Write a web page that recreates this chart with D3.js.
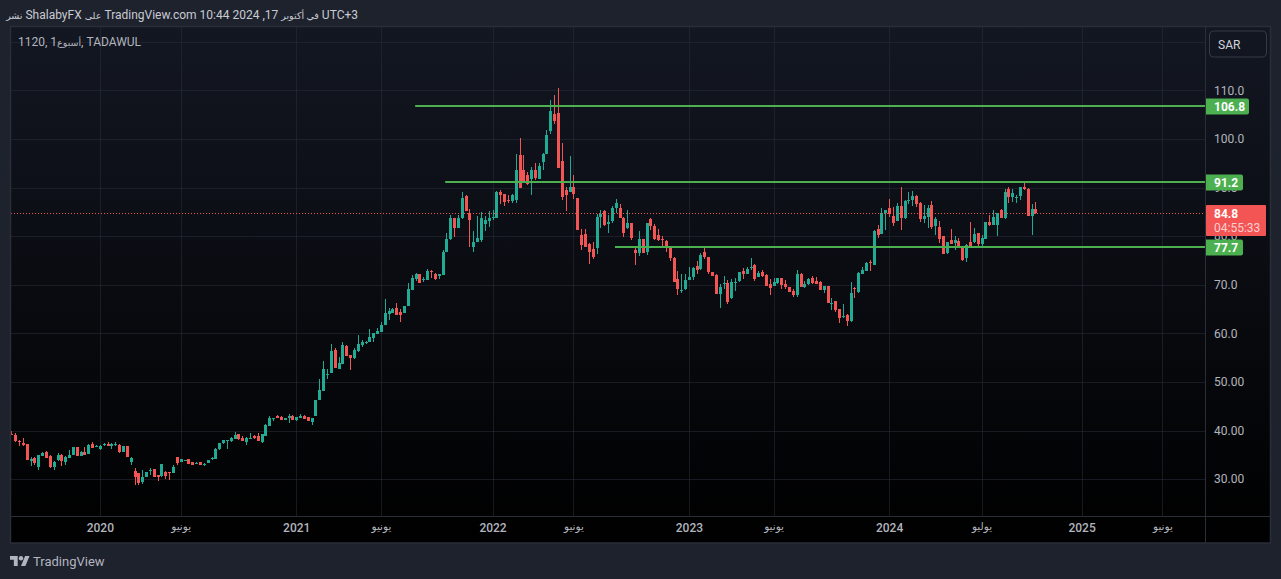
<!DOCTYPE html>
<html lang="ar">
<head>
<meta charset="utf-8">
<script src="https://cdnjs.cloudflare.com/ajax/libs/d3/7.8.5/d3.min.js"></script>
<style>
html,body{margin:0;padding:0;background:#1e222d;overflow:hidden}
svg{display:block}
text{font-family:Roboto,"DejaVu Sans",sans-serif}
</style>
</head>
<body>
<svg id="c" width="1281" height="579"></svg>
<script>
const opens = [
39.2,39.1,37.9,37.5,37.2,33.7,34.4,32.4,34.8,35.6,
34.8,32.4,33.9,35.0,33.5,34.4,34.9,36.6,34.8,35.5,
35.2,37.3,36.7,36.1,37.1,37.2,36.9,37.1,37.1,35.6,
36.8,33.5,31.7,31.2,29.4,30.4,31.6,32.0,30.8,30.7,
31.5,31.4,31.2,34.6,33.6,33.8,34.1,33.5,33.2,33.5,
32.9,33.4,34.1,34.2,36.1,37.4,37.9,37.8,38.2,39.2,
38.5,37.6,38.3,38.9,38.8,37.6,38.9,41.0,42.5,42.9,
42.7,42.2,42.5,43.0,42.1,42.6,43.0,42.7,41.8,42.9,
46.2,48.2,51.5,51.9,56.6,52.7,53.7,57.4,55.6,55.0,
56.4,57.6,58.1,58.2,59.1,59.9,60.3,61.7,64.0,64.2,
65.2,64.4,64.2,65.6,68.9,71.1,72.1,71.0,70.9,72.9,
72.3,71.7,71.9,76.8,79.4,83.7,81.7,83.7,88.2,84.7,
77.8,78.8,79.2,82.5,83.1,83.8,83.7,89.0,88.6,87.4,
87.2,87.4,96.6,93.7,92.5,91.7,93.7,91.7,95.2,96.8,
101.7,105.2,105.4,95.4,89.5,89.0,90.1,87.8,80.3,80.5,
78.4,77.4,77.6,83.9,85.2,82.5,83.1,85.8,85.8,83.7,
81.7,82.7,77.2,76.6,79.4,76.8,83.5,82.1,80.3,79.4,
78.9,78.0,75.4,71.1,68.9,69.1,70.9,71.5,73.9,73.3,
76.8,75.8,72.7,71.9,68.0,70.2,70.3,67.2,70.4,70.7,
72.9,72.3,73.5,74.0,71.5,72.7,71.9,70.1,69.7,70.3,
71.3,70.1,69.5,68.8,67.8,72.3,69.5,70.1,71.3,70.7,
70.5,68.9,69.7,66.2,66.6,65.0,63.5,63.7,62.5,69.3,
68.6,72.3,72.9,74.6,74.1,81.4,80.4,84.8,85.8,84.1,
83.1,86.2,83.7,87.4,87.4,88.3,86.8,83.5,83.9,86.4,
82.0,81.8,80.0,76.5,79.1,78.5,78.9,77.9,75.4,78.7,
78.7,80.6,78.3,79.4,82.9,82.2,82.2,85.3,83.7,89.7,
88.0,88.0,88.3,90.1,89.7,84.1,85.6];
const highs = [
40.0,39.4,38.0,38.4,37.2,34.5,34.6,34.9,35.6,35.8,
34.9,33.7,35.3,35.2,34.8,36.0,36.7,36.6,35.8,36.7,
37.3,37.6,37.1,37.0,37.5,37.6,37.4,37.6,37.2,36.8,
36.8,34.6,32.3,31.2,31.8,31.5,32.3,32.0,30.8,33.2,
31.7,31.5,33.0,34.6,34.2,34.0,34.1,33.5,33.5,33.5,
33.3,34.0,34.5,36.3,37.5,38.1,38.0,38.6,39.6,39.2,
38.8,38.6,39.5,39.0,39.5,39.2,41.4,42.9,42.6,43.1,
43.0,42.6,43.4,43.1,42.8,43.3,43.1,42.7,42.6,46.3,
50.5,54.4,52.7,57.8,57.0,55.2,58.2,57.6,55.6,57.0,
59.7,58.6,58.5,60.9,60.1,61.1,62.3,67.0,65.2,65.2,
66.2,65.0,65.6,70.3,71.9,72.5,72.3,71.5,73.3,73.1,
72.5,72.3,77.2,80.6,84.3,83.7,84.3,89.0,88.4,85.6,
81.1,84.1,85.0,84.1,85.2,85.4,89.3,89.4,88.6,88.4,
88.6,96.8,100.1,96.6,93.1,94.3,95.0,95.0,97.0,101.9,
108.0,109.0,110.5,99.2,90.1,96.4,92.5,87.8,81.5,81.5,
78.6,78.8,84.6,85.4,85.4,84.3,86.2,87.6,86.6,83.9,
85.4,82.7,77.8,81.1,79.4,82.7,83.7,82.5,81.5,80.1,
79.3,78.0,75.8,72.9,72.1,72.1,73.7,73.6,74.8,76.6,
77.6,75.8,72.7,72.1,70.1,71.7,70.9,71.1,71.3,72.7,
73.5,73.6,75.4,74.2,72.9,73.1,72.1,71.1,71.3,71.3,
71.3,70.9,69.5,69.1,73.1,72.5,70.7,71.3,71.7,71.5,
70.7,69.7,69.7,67.2,66.6,65.0,66.0,64.0,70.5,69.5,
72.7,73.7,74.6,75.0,81.2,82.2,85.8,85.4,87.6,86.0,
86.8,90.1,87.4,89.1,89.3,88.5,87.0,86.4,86.4,87.2,
83.9,83.2,80.0,78.7,81.4,80.0,79.6,77.9,78.3,82.9,
81.6,80.6,80.2,82.9,84.3,85.3,84.7,85.6,89.7,90.1,
89.7,88.5,90.1,91.1,89.9,86.6,87.0];
const lows = [
39.0,37.7,36.9,36.9,33.9,32.6,32.8,31.9,34.8,34.3,
32.3,31.9,33.7,32.6,32.8,34.3,34.9,34.8,34.8,35.0,
35.2,36.4,36.6,36.0,36.9,36.8,36.2,36.9,35.3,35.6,
34.6,33.0,28.8,28.8,28.9,30.4,30.9,30.5,29.7,30.5,
30.1,29.9,31.2,32.9,33.6,33.8,33.1,32.8,33.1,33.0,
32.7,33.4,34.0,34.1,36.0,37.3,36.2,37.7,38.2,38.1,
37.8,37.0,38.2,38.2,37.8,37.5,38.8,40.9,41.9,42.5,
42.1,42.1,41.5,42.1,41.9,42.5,42.3,41.9,41.1,42.9,
46.2,48.2,50.5,51.9,52.9,52.7,53.7,55.4,52.5,54.8,
56.2,57.2,57.8,58.2,58.2,59.9,60.3,61.7,62.7,64.2,
63.7,62.3,64.2,65.6,68.9,70.7,70.3,70.5,70.9,71.3,
70.9,71.1,71.9,76.8,79.2,79.9,81.7,83.5,85.2,77.8,
76.8,78.8,78.8,81.1,81.9,83.3,83.7,86.6,86.2,86.8,
86.8,86.8,89.9,90.9,90.5,88.4,91.5,91.7,93.7,96.8,
101.1,103.1,94.1,87.4,85.2,89.0,87.6,81.3,77.2,77.8,
74.3,75.2,76.4,81.7,82.1,80.7,82.7,84.8,83.7,79.9,
81.5,79.2,74.1,76.0,76.6,76.2,81.3,79.2,79.0,78.0,
76.8,74.8,70.5,67.8,68.2,69.0,70.9,70.9,72.3,73.1,
75.2,72.3,71.7,68.0,65.2,69.1,66.0,67.0,68.8,70.5,
71.1,72.3,73.1,70.7,71.5,71.5,69.7,67.8,69.7,70.1,
69.1,69.1,68.6,67.4,67.4,69.5,69.3,69.9,70.1,70.1,
68.9,68.2,66.2,64.8,64.4,62.1,63.1,61.5,62.3,67.2,
68.2,72.1,72.9,72.9,74.1,79.6,80.4,81.2,83.9,82.0,
83.1,81.2,83.5,86.6,86.2,86.0,82.9,82.7,81.6,81.4,
80.2,78.5,76.3,76.3,78.3,77.1,77.9,74.8,74.6,77.7,
78.5,77.7,77.9,79.4,82.0,82.2,80.0,83.7,83.5,86.8,
87.0,86.8,87.4,89.5,84.1,80.2,84.5];
const closes = [
39.1,37.8,37.7,37.0,33.9,34.1,33.3,34.9,35.4,34.4,
32.4,33.5,35.0,33.7,34.5,34.9,36.6,34.8,35.6,35.0,
37.1,36.5,36.9,36.9,37.2,36.9,37.3,37.2,35.6,36.8,
34.6,34.4,30.4,29.3,30.5,31.5,31.8,30.5,30.4,33.2,
30.7,31.3,32.5,33.3,34.1,34.0,33.1,32.9,33.4,33.0,
33.2,34.0,34.4,36.1,37.4,38.0,38.0,38.5,39.0,38.2,
37.9,38.4,38.4,38.4,37.9,39.2,41.1,42.5,42.6,42.6,
42.2,42.6,43.0,42.1,42.7,42.9,42.4,41.9,42.6,46.3,
48.4,52.7,51.6,56.4,52.9,53.9,57.6,55.4,54.9,56.6,
57.8,58.2,58.2,59.3,60.1,60.5,61.7,64.2,64.6,65.0,
63.8,63.8,65.6,69.1,71.3,72.1,70.3,71.1,72.9,72.8,
71.1,72.3,76.8,79.4,83.7,81.7,83.7,87.8,85.2,83.3,
78.8,79.6,83.7,83.3,83.7,84.0,89.0,88.4,87.0,87.3,
88.4,93.5,89.9,91.1,90.7,93.7,91.9,94.5,96.8,100.9,
105.8,103.7,94.1,88.0,88.4,90.1,88.6,81.3,78.2,77.8,
76.8,75.8,83.9,84.6,82.3,82.9,85.8,86.8,83.7,80.7,
82.7,79.6,76.6,79.4,76.6,82.7,82.0,79.4,79.2,79.2,
77.6,75.4,70.5,69.1,69.0,70.9,71.5,73.5,73.1,76.2,
75.6,72.7,71.7,68.0,69.5,70.4,66.4,70.5,70.5,72.7,
72.3,73.3,73.6,71.1,72.5,71.7,69.7,69.3,70.5,71.3,
69.9,69.5,68.6,67.8,72.3,69.5,70.1,71.1,70.3,70.1,
68.9,69.7,66.2,66.3,64.8,63.1,63.6,62.5,68.2,69.1,
72.5,73.1,74.4,74.4,81.1,80.2,84.8,85.4,84.5,82.7,
86.2,83.7,87.2,87.5,88.3,86.6,83.5,84.1,85.8,81.8,
83.5,79.4,76.3,78.7,78.3,79.1,77.9,75.0,78.1,77.7,
80.4,78.3,79.6,82.9,82.2,83.9,84.7,83.7,89.1,88.0,
88.9,88.1,90.1,89.7,84.1,85.6,84.8];

// Time axis: bar index of each labelled date, and its label
const timeTickBars   = [23, 44, 74, 96, 125, 146, 176, 198, 228, 252, 278, 299];
const timeTickLabels = ["2020","يونيو","2021","يونيو","2022","يونيو","2023","يونيو","2024","يوليو","2025","يونيو"];
// Price axis
const gridPrices      = [120,110,100,90,80,70,60,50,40,30];
const priceTickValues = [110,100,90,80,70,60,50,40,30];
const priceTickLabels = ["110.0","100.0","90.0","80.0","70.0","60.0","50.00","40.00","30.00"];
// Horizontal levels drawn on the chart: price, first bar, label
const levelPrices = [106.8, 91.2, 77.7];
const levelBars   = [104.9, 112.7, 156.8];
const levelLabels = ["106.8","91.2","77.7"];
const lastPrice = 84.8, lastLabel = "84.8", countdown = "04:55:33";
const publishLine = "UTC+3 في أكتوبر 17, 2024 10:44 TradingView.com على ShalabyFX نشر";
const symbolLine  = "1120, 1أسبوع, TADAWUL";

const UP="#22ab94", DOWN="#f35555", LEVEL="#4caf50", TXT="#b2b5be", LINE="#2a2e39";
const panel={l:10,t:27,r:1270,b:543}, plotR=1205, plotB=516;

const svg=d3.select("#c");
const defs=svg.append("defs");
const grad=defs.append("linearGradient").attr("id","bg").attr("x1",0).attr("y1",0).attr("x2",0).attr("y2",1);
grad.append("stop").attr("offset","0%").attr("stop-color","#131722");
grad.append("stop").attr("offset","100%").attr("stop-color","#000000");
defs.append("clipPath").attr("id","plot").append("rect").attr("x",panel.l+1).attr("y",panel.t).attr("width",plotR-panel.l-1).attr("height",plotB-panel.t);

svg.append("rect").attr("width",1281).attr("height",579).attr("fill","#1e222d");
svg.append("rect").attr("x",panel.l).attr("y",panel.t).attr("width",panel.r-panel.l).attr("height",panel.b-panel.t).attr("fill","url(#bg)");

const x=d3.scaleLinear().domain([0,266]).range([11.3,1035.4]);
const y=d3.scaleLinear().domain([30,110]).range([479.1,90.3]);
const px=v=>Math.round(x(v));
const py=v=>Math.round(y(v));

// grid
const g=svg.append("g").attr("clip-path","url(#plot)");
g.selectAll(".gy").data(gridPrices).join("line").attr("x1",panel.l).attr("x2",plotR)
 .attr("y1",d=>py(d)+.5).attr("y2",d=>py(d)+.5).attr("stroke",LINE).attr("stroke-opacity",.55);
g.selectAll(".gx").data(timeTickBars).join("line").attr("x1",d=>px(d)+.5).attr("x2",d=>px(d)+.5)
 .attr("y1",panel.t).attr("y2",plotB).attr("stroke",LINE).attr("stroke-opacity",.55);

// candles
const idx=d3.range(opens.length);
const col=i=>closes[i]>=opens[i]?UP:DOWN;
g.selectAll(".wick").data(idx).join("rect").attr("x",i=>px(i)).attr("width",1)
 .attr("y",i=>py(highs[i])).attr("height",i=>Math.max(1,py(lows[i])-py(highs[i]))).attr("fill",col);
g.selectAll(".body").data(idx).join("rect").attr("x",i=>px(i)-1).attr("width",3)
 .attr("y",i=>py(Math.max(opens[i],closes[i])))
 .attr("height",i=>Math.max(1,py(Math.min(opens[i],closes[i]))-py(Math.max(opens[i],closes[i]))))
 .attr("fill",col);

// last price dotted line
svg.append("line").attr("x1",panel.l+1).attr("x2",plotR).attr("y1",py(lastPrice)+.5).attr("y2",py(lastPrice)+.5)
 .attr("stroke",DOWN).attr("stroke-dasharray","1,2");

// panel lines
svg.append("rect").attr("x",panel.l+.5).attr("y",panel.t-.5).attr("width",panel.r-panel.l).attr("height",panel.b-panel.t+.5).attr("fill","none").attr("stroke",LINE).attr("stroke-width",1.5);
svg.append("line").attr("x1",plotR+.5).attr("x2",plotR+.5).attr("y1",panel.t).attr("y2",panel.b).attr("stroke",LINE);
svg.append("line").attr("x1",panel.l).attr("x2",panel.r).attr("y1",plotB+.5).attr("y2",plotB+.5).attr("stroke",LINE);

// axes
const ax=svg.append("g").attr("transform",`translate(0,${plotB})`)
 .call(d3.axisBottom(x).tickValues(timeTickBars).tickSize(0).tickPadding(7).tickFormat((d,i)=>timeTickLabels[i]));
ax.select(".domain").remove();
ax.selectAll("text").attr("fill",TXT)
 .style("font-size",(d,i)=>/\d/.test(timeTickLabels[i])?"12px":"10.5px")
 .style("font-weight",(d,i)=>/\d/.test(timeTickLabels[i])?500:400);

const ay=svg.append("g").attr("transform",`translate(${plotR},0)`)
 .call(d3.axisRight(y).tickValues(priceTickValues).tickSize(0).tickPadding(9).tickFormat((d,i)=>priceTickLabels[i]));
ay.select(".domain").remove();
ay.selectAll("text").attr("fill",TXT).style("font-size","12px");

// levels
svg.selectAll(".lvl").data(levelPrices).join("line").attr("x1",(d,i)=>x(levelBars[i])).attr("x2",plotR)
 .attr("y1",d=>py(d)).attr("y2",d=>py(d)).attr("stroke",LEVEL).attr("stroke-width",2);
const lab=svg.selectAll(".lab").data(levelPrices).join("g").attr("transform",d=>`translate(${plotR+1},${py(d)})`);
lab.append("path").attr("fill",LEVEL).attr("d",(d,i)=>{const w=levelLabels[i].length>4?43:37;return `M0,-8 H${w-2} q2,0 2,2 V6 q0,2 -2,2 H0 Z`;}).attr("transform","translate(0,0.4)");
lab.append("text").text((d,i)=>levelLabels[i]).attr("x",8).attr("y",4.5).attr("fill","#fff").style("font-size","12px").style("font-weight",700);

// last price label
const ly=py(lastPrice);
svg.append("rect").attr("x",plotR+1).attr("y",ly-8).attr("width",60).attr("height",31).attr("fill",DOWN).attr("rx",1);
svg.append("text").text(lastLabel).attr("x",plotR+9).attr("y",ly+5).attr("fill","#fff").style("font-size","12px").style("font-weight",700);
svg.append("text").text(countdown).attr("x",plotR+9).attr("y",ly+19).attr("fill","#fff").attr("fill-opacity",.72).style("font-size","12px");

// currency box
svg.append("rect").attr("x",1209.5).attr("y",31).attr("width",57).attr("height",26).attr("rx",4).attr("fill","none").attr("stroke","#363a45");
svg.append("text").text("SAR").attr("x",1218).attr("y",49).attr("fill","#d1d4dc").style("font-size","12px");

// Arabic runs are set a little smaller than the Latin ones, as in the reference
function fillRuns(sel,str,arabicSize){
  str.split(/([\u0600-\u06FF]+(?: [\u0600-\u06FF]+)*)/).filter(s=>s.length).forEach(s=>{
    const t=sel.append("tspan").text(s);
    if(/[\u0600-\u06FF]/.test(s)) t.style("font-size",arabicSize);
  });
}
// header and symbol lines
const hdr=svg.append("text").attr("x",358).attr("y",19).attr("direction","rtl").attr("text-anchor","start")
 .attr("fill","#c8cbd3").style("font-size","12px").style("white-space","pre");
fillRuns(hdr,publishLine,"9.5px");
const sym=svg.append("text").attr("x",18).attr("y",46).attr("fill",TXT).style("font-size","12px").style("white-space","pre");
fillRuns(sym,symbolLine,"9.5px");

// footer logo
const logo=svg.append("g").attr("transform","translate(10,553.8) scale(.55)").attr("fill","#b2b5be");
logo.append("path").attr("d","M14 22H7V11H0V4h14v18zM28 22h-8l7.5-18h8L28 22z");
logo.append("circle").attr("cx",20).attr("cy",8).attr("r",4);
svg.append("text").text("TradingView").attr("x",33).attr("y",566).attr("fill",TXT).style("font-size","13px");
</script>
</body>
</html>
